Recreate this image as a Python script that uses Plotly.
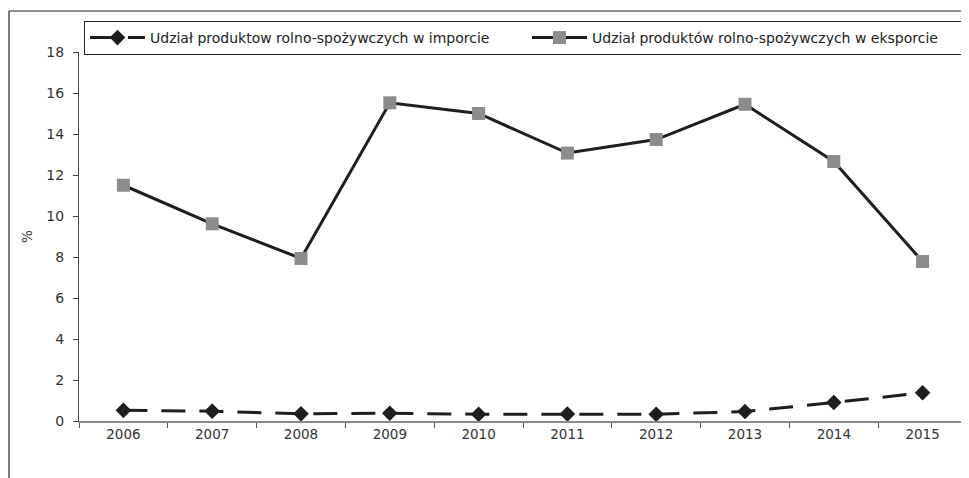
import plotly.graph_objects as go

years = ["2006", "2007", "2008", "2009", "2010", "2011", "2012", "2013", "2014", "2015"]
import_share = [0.52, 0.48, 0.35, 0.38, 0.33, 0.34, 0.33, 0.46, 0.90, 1.38]
export_share = [11.5, 9.62, 7.93, 15.52, 15.0, 13.07, 13.73, 15.45, 12.66, 7.78]

name_import = "Udział produktow rolno-spożywczych w imporcie"
name_export = "Udział produktów rolno-spożywczych w eksporcie"

# the page body adds an 8px offset; figure coordinates = page coordinates - 8
OFF = 8
W, H = 969 - OFF, 478 - OFF
L, R, T, B = 79 - OFF, 2, 52 - OFF, 57
pw = W - L - R
ph = H - T - B

def px_x(p):
    return (p - OFF - L) / pw

def px_y(p):
    return (H - B - (p - OFF)) / ph

FONT = "DejaVu Sans, Liberation Sans, Arial, sans-serif"

fig = go.Figure()
fig.add_trace(go.Scatter(
    x=years, y=import_share, name=name_import, mode="lines+markers",
    line=dict(color="#1e1e1e", width=3, dash="24px,14px"),
    marker=dict(symbol="diamond", size=12, color="#1e1e1e"),
))
fig.add_trace(go.Scatter(
    x=years, y=export_share, name=name_export, mode="lines+markers",
    line=dict(color="#1e1e1e", width=3),
    marker=dict(symbol="square", size=13, color="#8c8c8c"),
))

fig.update_layout(
    width=W, height=H,
    margin=dict(l=L, r=R, t=T, b=B, autoexpand=False),
    paper_bgcolor="white", plot_bgcolor="white",
    font=dict(family=FONT, size=13, color="#222"),
    showlegend=True,
    legend=dict(
        orientation="h", xref="paper", yref="paper",
        x=px_x(84), y=px_y(21), xanchor="left", yanchor="top",
        bordercolor="#222", borderwidth=1, bgcolor="white",
        font=dict(family=FONT, size=14, color="#222"),
        entrywidth=372, entrywidthmode="pixels",
        itemwidth=55,
    ),
    xaxis=dict(
        type="category", showgrid=False, zeroline=False,
        showline=True, linecolor="#8a8a8a", linewidth=1.5,
        ticks="outside", tickson="boundaries", ticklen=5, tickcolor="#555",
        tickfont=dict(family=FONT, size=13.5, color="#333"),
        range=[-0.5, 9.5],
    ),
    yaxis=dict(
        range=[0, 18], dtick=2, showgrid=False, zeroline=False,
        showline=True, linecolor="#444", linewidth=1,
        ticks="outside", ticklen=5, tickcolor="#444",
        ticklabelstandoff=6,
        tickfont=dict(family=FONT, size=14, color="#333"),
        title=dict(text="%", font=dict(family=FONT, size=13.5, color="#333"), standoff=10),
    ),
    shapes=[
        dict(type="line", xref="paper", yref="paper",
             x0=px_x(9), x1=px_x(975), y0=px_y(11), y1=px_y(11),
             line=dict(color="#222", width=1.2)),
        dict(type="line", xref="paper", yref="paper",
             x0=px_x(9), x1=px_x(9), y0=px_y(11), y1=px_y(480),
             line=dict(color="#222", width=1.2)),
    ],
)

fig.write_html("out.html")
